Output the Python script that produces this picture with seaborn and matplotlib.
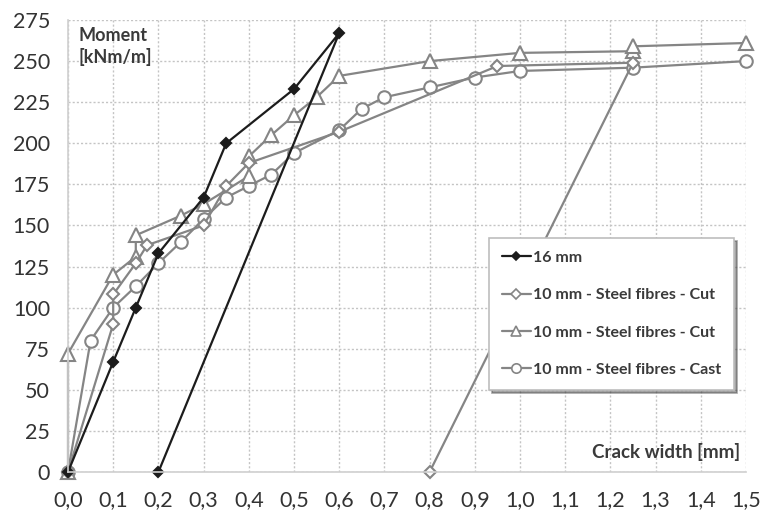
import matplotlib
matplotlib.use("Agg")
import matplotlib.pyplot as plt
import seaborn as sns
import pandas as pd
from matplotlib.lines import Line2D

# ---- data ----
s16_x = [0.0, 0.1, 0.15, 0.2, 0.3, 0.35, 0.5, 0.6, 0.2]
s16_y = [0, 67, 100, 133, 167, 200, 233, 267, 0]

cut_d_x = [0.0, 0.1, 0.1, 0.15, 0.175, 0.3, 0.35, 0.4, 0.6, 0.95, 1.25, 0.8]
cut_d_y = [0, 90, 108, 127, 138, 150, 174, 188, 207, 247, 249, 0]

cut_t_x = [0.0, 0.0, 0.1, 0.15, 0.15, 0.25, 0.3, 0.4, 0.4, 0.45, 0.5, 0.55, 0.6, 0.8, 1.0, 1.25, 1.25, 1.5]
cut_t_y = [0, 72, 120, 131, 144, 156, 163, 180, 192, 205, 217, 228, 241, 250, 255, 256, 259, 261]

cast_x = [0.0, 0.05, 0.1, 0.15, 0.2, 0.25, 0.3, 0.35, 0.4, 0.45, 0.5, 0.6, 0.65, 0.7, 0.8, 0.9, 1.0, 1.25, 1.5]
cast_y = [0, 80, 100, 113, 127, 140, 154, 167, 174, 181, 194, 208, 221, 228, 234, 240, 244, 246, 250]

labels = ["16 mm", "10 mm - Steel fibres - Cut", "10 mm - Steel fibres - Cut", "10 mm - Steel fibres - Cast"]
x_ticks = [0.0, 0.1, 0.2, 0.3, 0.4, 0.5, 0.6, 0.7, 0.8, 0.9, 1.0, 1.1, 1.2, 1.3, 1.4, 1.5]
x_tick_labels = ["0,0", "0,1", "0,2", "0,3", "0,4", "0,5", "0,6", "0,7", "0,8", "0,9", "1,0", "1,1", "1,2", "1,3", "1,4", "1,5"]
y_ticks = [0, 25, 50, 75, 100, 125, 150, 175, 200, 225, 250, 275]

sns.set_theme(style="white")
plt.rcParams['font.family'] = ['Lato', 'DejaVu Sans']

fig = plt.figure(figsize=(7.64, 5.19), dpi=100)
ax = fig.add_axes([68/764, 47/519, (746-68)/764, (472-20)/519])

BLACK = "#1c1c1c"
GRAY = "#858585"

series = [
    (s16_x, s16_y, "D", BLACK, BLACK, 5.5, labels[0]),
    (cut_d_x, cut_d_y, "D", GRAY, "white", 6.5, labels[1]),
    (cut_t_x, cut_t_y, "^", GRAY, "white", 9.5, labels[2]),
    (cast_x, cast_y, "o", GRAY, "white", 9.0, labels[3]),
]

handles = []
for xs, ys, mk, col, fc, ms, lab in reversed(series):
    df = pd.DataFrame({"x": xs, "y": ys})
    sns.lineplot(data=df, x="x", y="y", sort=False, estimator=None, ax=ax,
                 color=col, lw=1.6, marker=mk, markersize=ms,
                 markerfacecolor=fc, markeredgecolor=col, markeredgewidth=1.5,
                 clip_on=False)

for xs, ys, mk, col, fc, ms, lab in series:
    handles.append(Line2D([0], [0], color=col, lw=1.6, marker=mk,
                          markersize=ms * 0.75, markerfacecolor=fc,
                          markeredgecolor=col, markeredgewidth=1.2, label=lab))

ax.set_xlim(0, 1.5)
ax.set_ylim(0, 275)
ax.set_xticks(x_ticks)
ax.set_xticklabels(x_tick_labels)
ax.set_yticks(y_ticks)
ax.set_xlabel("")
ax.set_ylabel("")

ax.grid(True, color="#c4c4c4", linestyle=(0, (1.5, 1.5)), lw=1.0)
for sp in ["top", "right"]:
    ax.spines[sp].set_visible(False)
for sp in ["left", "bottom"]:
    ax.spines[sp].set_color("#cfcfcf")
    ax.spines[sp].set_linewidth(1.2)
ax.tick_params(axis="x", direction="out", length=5, color="#cfcfcf", width=1,
               labelsize=15.5, labelcolor="#333333", pad=8)
ax.tick_params(axis="y", length=0, labelsize=15.5, labelcolor="#333333", pad=13)
ax.set_axisbelow(True)

ax.text(0.024, 271, "Moment\n[kNm/m]", fontsize=13, fontweight="bold",
        color="#3a3a3a", va="top", ha="left", linespacing=1.3)
ax.text(1.487, 12, "Crack width [mm]", fontsize=13.5, fontweight="bold",
        color="#3a3a3a", va="center", ha="right")

leg = ax.legend(handles=handles, loc="upper left",
                bbox_to_anchor=((489-68)/678, (472-238)/452),
                frameon=True, fancybox=False, shadow=True,
                labelspacing=1.45, handlelength=1.8, handletextpad=0.15,
                borderpad=0.8, borderaxespad=0,
                prop={"weight": "bold", "size": 11.5})
leg.get_frame().set_edgecolor("#bdbdbd")
leg.get_frame().set_linewidth(1.2)
for t in leg.get_texts():
    t.set_color("#3a3a3a")

fig.savefig("out.png", dpi=100)
